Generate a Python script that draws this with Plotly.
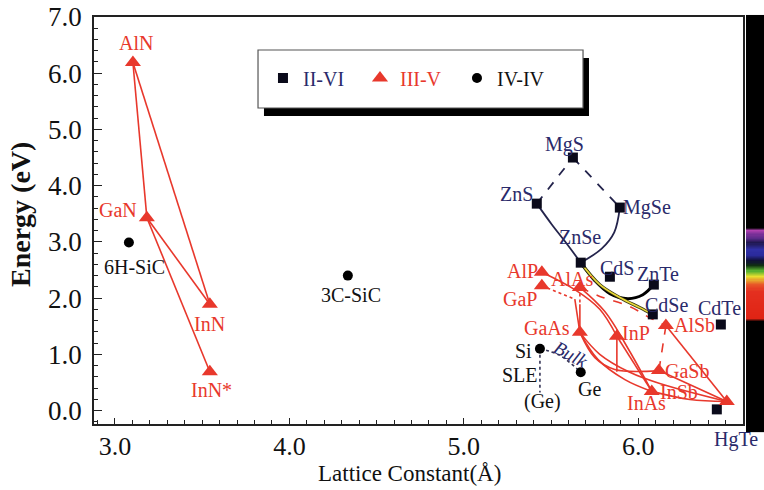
import numpy as np
import plotly.graph_objects as go

# ---------------- data ----------------
ii_vi_names = ["MgS", "ZnS", "MgSe", "ZnSe", "CdS", "ZnTe", "CdSe", "CdTe", "HgTe"]
ii_vi_a = [5.625, 5.418, 5.894, 5.670, 5.837, 6.089, 6.083, 6.473, 6.450]
ii_vi_eg = [4.50, 3.68, 3.61, 2.63, 2.38, 2.24, 1.71, 1.53, 0.02]

iii_v_names = ["AlN", "GaN", "InN", "InN*", "AlP", "GaP", "AlAs", "GaAs", "InP",
               "AlSb", "GaSb", "InAs", "InSb"]
iii_v_a = [3.103, 3.183, 3.544, 3.544, 5.447, 5.447, 5.665, 5.665, 5.877,
           6.158, 6.118, 6.077, 6.507]
iii_v_eg = [6.19, 3.43, 1.89, 0.69, 2.46, 2.22, 2.19, 1.39, 1.32,
            1.51, 0.71, 0.34, 0.16]

iv_names = ["6H-SiC", "3C-SiC", "Si", "Ge"]
iv_a = [3.08, 4.335, 5.436, 5.670]
iv_eg = [2.99, 2.40, 1.10, 0.68]

# alloy lines: (lattice constants, energies)
ii_vi_solid = {
    "ZnS-ZnSe": ([5.418, 5.504, 5.579, 5.670], [3.68, 3.31, 3.01, 2.63]),
    "MgSe-ZnSe": ([5.894, 5.862, 5.790, 5.670], [3.61, 3.17, 2.88, 2.63]),
}
ii_vi_dashed = {
    "ZnS-MgS": ([5.418, 5.625], [3.68, 4.50]),
    "MgS-MgSe": ([5.625, 5.894], [4.50, 3.61]),
}
znse_znte = ([5.670, 5.751, 5.837, 5.940, 6.026, 6.089], [2.63, 2.31, 2.08, 1.99, 2.06, 2.24])
znse_cdse = ([5.670, 5.779, 5.894, 6.009, 6.083], [2.63, 2.24, 2.01, 1.83, 1.71])

iii_v_solid = {
    "AlN-GaN": ([3.103, 3.183], [6.19, 3.43]),
    "AlN-InN": ([3.103, 3.544], [6.19, 1.89]),
    "GaN-InN": ([3.183, 3.544], [3.43, 1.89]),
    "GaN-InN*": ([3.183, 3.544], [3.43, 0.69]),
    "GaAsP-direct": ([5.636, 5.665], [1.98, 1.39]),
    "AlGaAs-direct": ([5.665, 5.665], [1.89, 1.39]),
    "AlSb-InSb": ([6.158, 6.507], [1.51, 0.16]),
    "GaSb-InSb": ([6.118, 6.507], [0.71, 0.16]),
    "InAs-InSb": ([6.077, 6.295, 6.507], [0.34, 0.196, 0.16]),
    "GaAs-InSb": ([5.665, 5.779, 5.951, 6.123, 6.507], [1.39, 1.00, 0.68, 0.48, 0.16]),
    "GaAs-GaSb": ([5.665, 5.751, 5.865, 6.118], [1.39, 0.94, 0.73, 0.71]),
    "GaAs-InAs": ([5.665, 5.768, 5.923, 6.077], [1.39, 0.91, 0.55, 0.34]),
    "InP-InGaAs": ([5.877, 5.877], [1.32, 0.69]),
    "InP-InAs": ([5.877, 6.077], [1.32, 0.34]),
    "AlP-InP": ([5.447, 5.636, 5.779, 5.877], [2.46, 2.15, 1.80, 1.32]),
    "AlAs-InAs": ([5.665, 5.808, 5.951, 6.077], [2.19, 1.76, 1.05, 0.34]),
}
iii_v_dotted = {
    "GaAsP-indirect": ([5.447, 5.636], [2.22, 1.98]),
    "AlGaAs-indirect": ([5.665, 5.665], [2.19, 1.89]),
}
iii_v_dashed = {
    "AlAs-AlSb": ([5.665, 5.779, 5.951, 6.066, 6.158], [2.19, 2.03, 1.85, 1.65, 1.51]),
    "AlSb-GaSb": ([6.158, 6.118], [1.51, 0.71]),
}
iv_dotted = {
    "Bulk": ([5.436, 5.550, 5.670], [1.10, 0.98, 0.68]),
    "SLE": ([5.436, 5.436], [1.10, 0.32]),
}

# visible spectrum strip (energy, colour)
spec_e = [-0.24, 1.58, 1.64, 2.12, 2.24, 2.38, 2.48, 2.58, 2.66, 2.76, 2.86, 2.98, 3.06, 3.13, 3.20, 3.25, 7.0]
spec_c = ["#000000", "#000000", "#e02414", "#e43020", "#e85828", "#e8e030", "#58b030", "#103010",
          "#101038", "#2a2a9a", "#3030a8", "#201850", "#5a2a88", "#7a3098", "#b040b0", "#000000", "#000000"]

# ---------------- style ----------------
RED = "#e8382c"
NAVY = "#2a2a6a"
LNAVY = "#24244c"
SERIF = "Liberation Serif"

fig = go.Figure()

def add_line(xs, ys, color, width=1.6, dash="solid", spline=True):
    fig.add_trace(go.Scatter(x=xs, y=ys, mode="lines", showlegend=False, hoverinfo="skip",
                             line=dict(color=color, width=width, dash=dash,
                                       shape="spline" if (spline and len(xs) > 2) else "linear")))

for xs, ys in ii_vi_dashed.values():
    add_line(xs, ys, LNAVY, 1.8, "dash")
for xs, ys in ii_vi_solid.values():
    add_line(xs, ys, LNAVY, 1.8)
add_line(*znse_znte, "#000000", 3.0)
add_line(*znse_cdse, "#3a3a10", 3.2)
add_line(*znse_cdse, "#e8d83a", 1.6)
for xs, ys in iii_v_solid.values():
    add_line(xs, ys, RED, 1.6)
for xs, ys in iii_v_dotted.values():
    add_line(xs, ys, RED, 1.6, "dot")
for xs, ys in iii_v_dashed.values():
    add_line(xs, ys, RED, 1.6, "dash")
for xs, ys in iv_dotted.values():
    add_line(xs, ys, "#333355", 1.6, "dot")

fig.add_trace(go.Scatter(x=ii_vi_a, y=ii_vi_eg, mode="markers",
                         name='<span style="color:%s">II-VI</span>' % NAVY,
                         marker=dict(symbol="square", size=10, color="#0a0a1a")))
fig.add_trace(go.Scatter(x=iii_v_a, y=iii_v_eg, mode="markers",
                         name='<span style="color:%s">III-V</span>' % RED,
                         marker=dict(symbol="triangle-up", size=14, color=RED)))
fig.add_trace(go.Scatter(x=iv_a, y=iv_eg, mode="markers",
                         name='<span style="color:#111111">IV-IV</span>',
                         marker=dict(symbol="circle", size=10, color="#000000")))

# spectrum strip (uniform sampling of the colour stops)
zmin, zmax = spec_e[0], spec_e[-1]
cscale = [[(e - zmin) / (zmax - zmin), c] for e, c in zip(spec_e, spec_c)]
strip_y = np.arange(zmin, zmax + 0.001, 0.02)
fig.add_trace(go.Heatmap(x=[0, 1], y=strip_y, z=[[v, v] for v in strip_y], xaxis="x2", yaxis="y",
                         colorscale=cscale, zmin=zmin, zmax=zmax,
                         showscale=False, hoverinfo="skip"))

# label offsets in pixels (dx, dy)
label_off = {
    "AlN": (3, 20), "GaN": (-29, 8), "InN": (0, -20), "InN*": (2, -18),
    "AlP": (-19, 1), "GaP": (-22, -13), "AlAs": (-8, 8), "GaAs": (-33, 4),
    "InP": (19, 3), "AlSb": (29, 1), "GaSb": (28, 0), "InAs": (-5, -12), "InSb": (-48, 10),
    "MgS": (-8, 13), "ZnS": (-20, 10), "MgSe": (27, 0), "ZnSe": (-1, 26), "CdS": (7, 9),
    "ZnTe": (4, 11), "CdSe": (14, 9), "CdTe": (-1, 17), "HgTe": (19, -30),
    "6H-SiC": (6, -25), "3C-SiC": (3, -19), "Si": (-16, -2), "Ge": (9, -17),
}
def label(name, x, y, color, dx, dy, size=20, **kw):
    fig.add_annotation(x=x, y=y, text=name, showarrow=False, xshift=dx, yshift=dy,
                       font=dict(family=SERIF, size=size, color=color), **kw)

for n, x, y in zip(iii_v_names, iii_v_a, iii_v_eg):
    label(n, x, y, RED, *label_off[n])
for n, x, y in zip(ii_vi_names, ii_vi_a, ii_vi_eg):
    label(n, x, y, NAVY, *label_off[n])
for n, x, y in zip(iv_names, iv_a, iv_eg):
    label(n, x, y, "#111111", *label_off[n])
si_x, si_y = iv_a[2], iv_eg[2]
label("SLE", si_x, si_y, "#111111", -20, -26)
label("(Ge)", si_x, si_y, "#111111", 3, -53)
label("<i>Bulk</i>", si_x, si_y, NAVY, 31, -6, size=19, textangle=28)

# axis titles
fig.add_annotation(xref="paper", yref="paper", x=0.4716, y=-0.1215, xanchor="center", yanchor="middle",
                   text="Lattice Constant(Å)", showarrow=False,
                   font=dict(family=SERIF, size=23, color="#111111"))
fig.add_annotation(xref="paper", yref="paper", x=-0.1104, y=0.5135, xanchor="center", yanchor="middle",
                   text="<b>Energy (eV)</b>", showarrow=False, textangle=-90,
                   font=dict(family=SERIF, size=28, color="#111111"))

# legend box with shadow
fig.add_shape(type="rect", xref="paper", yref="paper", x0=0.2537, x1=0.7388, y0=0.7568, y1=0.8993,
              fillcolor="#000000", line=dict(width=0), layer="above")
fig.add_shape(type="rect", xref="paper", yref="paper", x0=0.2448, x1=0.7299, y0=0.7764, y1=0.9189,
              fillcolor="#ffffff", line=dict(color="#555555", width=1.2), layer="above")
# black ends of the spectrum strip reaching past the frame
fig.add_shape(type="rect", xref="x2 domain", yref="paper", x0=0, x1=1, y0=-0.02, y1=0.0,
              fillcolor="#000000", line=dict(width=0), layer="above")
fig.add_shape(type="rect", xref="x2 domain", yref="paper", x0=0, x1=1, y0=1.0, y1=1.005,
              fillcolor="#000000", line=dict(width=0), layer="above")

fig.update_layout(
    width=764, height=490,
    margin=dict(l=94, r=0, t=17, b=66),
    plot_bgcolor="#ffffff", paper_bgcolor="#ffffff",
    font=dict(family=SERIF, color="#111111"),
    showlegend=True,
    legend=dict(orientation="h", x=0.2522, y=0.850, xanchor="left", yanchor="middle",
                bgcolor="rgba(0,0,0,0)", borderwidth=0,
                font=dict(family=SERIF, size=20), entrywidth=52, itemclick=False),
    xaxis=dict(domain=[0, 0.96866], range=[2.88, 6.60], showgrid=False, zeroline=False,
               showline=True, linecolor="#222222", linewidth=1.5, mirror=True,
               ticks="inside", ticklen=6, tickcolor="#222222", tickwidth=1.2,
               tickvals=[3, 4, 5, 6], ticktext=["3.0", "4.0", "5.0", "6.0"],
               minor=dict(dtick=0.1, ticks="inside", ticklen=4, tickcolor="#222222"),
               ticklabelstandoff=-2,
               tickfont=dict(family=SERIF, size=26, color="#111111")),
    xaxis2=dict(domain=[0.9731, 1], range=[0, 1], visible=False, anchor="y"),
    yaxis=dict(range=[-0.24, 7.0], showgrid=False, zeroline=False,
               showline=True, linecolor="#222222", linewidth=1.5, mirror=True,
               ticks="inside", ticklen=8, tickcolor="#222222", tickwidth=1.2,
               tickvals=[0, 1, 2, 3, 4, 5, 6, 7],
               ticktext=["0.0", "1.0", "2.0", "3.0", "4.0", "5.0", "6.0", "7.0"],
               minor=dict(dtick=0.2, ticks="inside", ticklen=4, tickcolor="#222222"),
               ticklabelstandoff=5,
               tickfont=dict(family=SERIF, size=27, color="#111111")),
)

fig.write_html("out.html", config={"displayModeBar": False},
               post_script="document.body.style.margin='0';document.body.style.padding='0';")
